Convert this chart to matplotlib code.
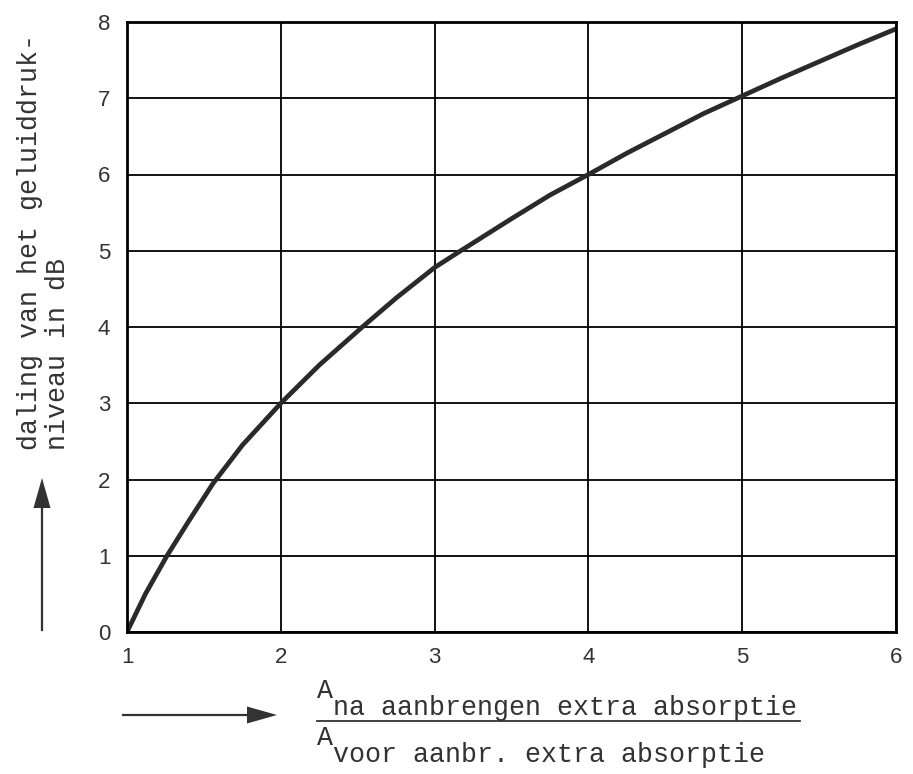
import matplotlib
matplotlib.use("Agg")
import matplotlib.pyplot as plt
from matplotlib.lines import Line2D
from matplotlib.patches import Polygon

# verhouding A_na / A_voor en de daling in dB
ratio = [1.0, 1.12, 1.26, 1.4, 1.56, 1.75, 2.0, 2.25, 2.53, 2.75, 3.0, 3.17,
         3.5, 3.75, 4.0, 4.25, 4.5, 4.75, 5.0, 5.25, 5.5, 5.75, 6.0]
daling = [0.0, 0.5, 1.0, 1.45, 1.95, 2.45, 3.0, 3.5, 4.0, 4.38, 4.78, 5.0,
          5.42, 5.73, 6.0, 6.28, 6.54, 6.8, 7.03, 7.26, 7.48, 7.7, 7.91]

xticks = [1, 2, 3, 4, 5, 6]
yticks = [0, 1, 2, 3, 4, 5, 6, 7, 8]

W, H = 913, 774
mono = "Liberation Mono"
ink = "#333333"


def px(x, y):
    # pixelpositie (vanaf linksboven) naar figuurcoordinaten
    return x / W, 1 - y / H


def arrow(fig, start, tip, head_len=30, head_w=17):
    (x0, y0), (x1, y1) = start, tip
    dx, dy = x1 - x0, y1 - y0
    n = (dx ** 2 + dy ** 2) ** 0.5
    ux, uy = dx / n, dy / n
    bx, by = x1 - ux * head_len, y1 - uy * head_len
    fig.add_artist(Line2D(*zip(px(x0, y0), px(bx, by)),
                          transform=fig.transFigure, color=ink, lw=1.6))
    pts = [px(x1, y1),
           px(bx - uy * head_w / 2, by + ux * head_w / 2),
           px(bx + uy * head_w / 2, by - ux * head_w / 2)]
    fig.add_artist(Polygon(pts, closed=True, transform=fig.transFigure,
                           color=ink, lw=0))


fig = plt.figure(figsize=(W / 100, H / 100), dpi=100)
l, b = px(127, 632)
r, t = px(896, 22)
ax = fig.add_axes([l, b, r - l, t - b])

ax.plot(ratio, daling, color="#2a2a2a", lw=3.4, solid_capstyle="round",
        solid_joinstyle="round")

ax.set_xlim(1, 6)
ax.set_ylim(0, 8)
ax.set_xticks(xticks)
ax.set_yticks(yticks)
ax.grid(True, color="black", lw=1.3)
for s in ax.spines.values():
    s.set_linewidth(2)
ax.tick_params(length=0, labelsize=16, labelcolor=ink)
ax.tick_params(axis="y", pad=12)
ax.tick_params(axis="x", pad=11)
for lbl in ax.get_xticklabels() + ax.get_yticklabels():
    lbl.set_family("Liberation Sans")

# as-titel links, verticaal in twee regels, met pijl omhoog
fig.text(*px(37, 450), "daling van het geluiddruk-", rotation=90,
         rotation_mode="anchor", ha="left", va="baseline",
         fontsize=19.2, family=mono, color=ink)
fig.text(*px(65, 450), "niveau in dB", rotation=90,
         rotation_mode="anchor", ha="left", va="baseline",
         fontsize=19.2, family=mono, color=ink)
arrow(fig, (42, 630), (42, 478))

# pijl naar rechts en de breuk onder de x-as
arrow(fig, (123, 715), (277, 715))
fig.text(*px(317, 698), "A", fontsize=19.2, family=mono, color=ink,
         va="baseline")
fig.text(*px(333, 715), "na aanbrengen extra absorptie", fontsize=19.2,
         family=mono, color=ink, va="baseline")
fig.add_artist(Line2D(*zip(px(317, 721), px(800, 721)),
                      transform=fig.transFigure, color=ink, lw=1.3))
fig.text(*px(317, 745), "A", fontsize=19.2, family=mono, color=ink,
         va="baseline")
fig.text(*px(333, 762), "voor aanbr. extra absorptie", fontsize=19.2,
         family=mono, color=ink, va="baseline")

fig.savefig("out.png", dpi=100)
